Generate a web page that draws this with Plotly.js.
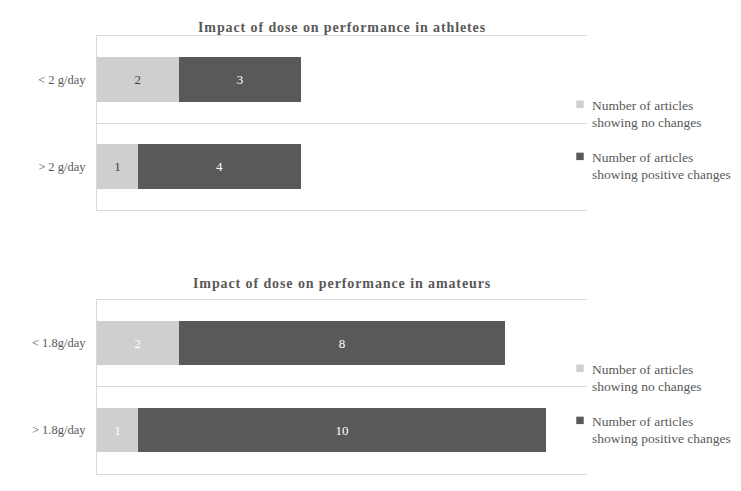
<!DOCTYPE html>
<html>
<head>
<meta charset="utf-8">
<script src="https://cdn.plot.ly/plotly-3.0.1.min.js"></script>
<style>
  html, body { margin: 0; padding: 0; background: #fff; }
  #chart { width: 741px; height: 491px; }
  .annotation-text { letter-spacing: 0.9px; }
  .legendpoints path { transform: translate(28px, 0px) scale(0.62); }
</style>
</head>
<body>
<div id="chart"></div>
<script>
// data
var athleteDoses = ['< 2 g/day', '> 2 g/day'];
var athleteNoChange = [2, 1];
var athletePositive = [3, 4];

var amateurDoses = ['< 1.8g/day', '> 1.8g/day'];
var amateurNoChange = [2, 1];
var amateurPositive = [8, 10];

var seriesNames = ['Number of articles<br>showing no changes', 'Number of articles<br>showing positive changes'];
var titles = ['Impact of dose on performance in athletes', 'Impact of dose on performance in amateurs'];

var LIGHT = '#d0cecf', DARK = '#595959', TXT = '#595959';
var FONT = 'Liberation Serif';

function bar(y, x, name, color, txtColor, xa, ya, leg, group) {
  return {
    type: 'bar', orientation: 'h',
    y: y, x: x, name: name,
    text: x.map(String), textposition: 'inside', insidetextanchor: 'middle',
    textfont: {family: FONT, size: 13, color: txtColor},
    marker: {color: color, line: {width: 0}},
    xaxis: xa, yaxis: ya, legend: leg, legendgroup: group,
    hoverinfo: 'skip'
  };
}

var data = [
  bar(athleteDoses, athleteNoChange, seriesNames[0], LIGHT, '#404040', 'x', 'y', 'legend', 'a1'),
  bar(athleteDoses, athletePositive, seriesNames[1], DARK, '#ffffff', 'x', 'y', 'legend', 'a2'),
  bar(amateurDoses, amateurNoChange, seriesNames[0], LIGHT, '#ffffff', 'x2', 'y2', 'legend2', 'b1'),
  bar(amateurDoses, amateurPositive, seriesNames[1], DARK, '#ffffff', 'x2', 'y2', 'legend2', 'b2')
];

var W = 741, H = 491;
function xd(a, b) { return [a / W, b / W]; }
function yd(top, bottom) { return [1 - bottom / H, 1 - top / H]; }

function xax(anchor) {
  return {
    domain: xd(97, 587), range: [0, 12], anchor: anchor,
    showgrid: false, zeroline: false, showticklabels: false, ticks: '',
    showline: true, mirror: true, linecolor: '#d9d9d9', linewidth: 1, fixedrange: true
  };
}
function yax(dom, anchor) {
  return {
    domain: dom, anchor: anchor, type: 'category', autorange: 'reversed',
    tickson: 'boundaries', showgrid: true, gridcolor: '#d9d9d9', gridwidth: 1,
    ticks: '', ticklabelstandoff: 8,
    showline: true, linecolor: '#d9d9d9', linewidth: 1, zeroline: false,
    tickfont: {family: FONT, size: 12.5, color: TXT}, fixedrange: true
  };
}
function leg(ytop) {
  return {
    x: 552 / W, xanchor: 'left', y: 1 - ytop / H, yanchor: 'top',
    font: {family: FONT, size: 13.5, color: TXT}, valign: 'top',
    traceorder: 'grouped', tracegroupgap: 14, bgcolor: 'rgba(0,0,0,0)'
  };
}

var layout = {
  width: W, height: H,
  margin: {l: 0, r: 0, t: 0, b: 0},
  paper_bgcolor: '#fff', plot_bgcolor: '#fff',
  barmode: 'stack', bargap: 0.49,
  font: {family: FONT, color: TXT},
  xaxis: xax('y'), yaxis: yax(yd(36, 210), 'x'),
  xaxis2: xax('y2'), yaxis2: yax(yd(299.5, 473.5), 'x2'),
  legend: leg(89), legend2: leg(353),
  annotations: [
    {text: titles[0], xref: 'paper', yref: 'paper', x: 342 / W, y: 1 - 18 / H,
     showarrow: false, font: {family: FONT, size: 14, color: TXT, weight: 'bold'}},
    {text: titles[1], xref: 'paper', yref: 'paper', x: 342 / W, y: 1 - 283 / H,
     showarrow: false, font: {family: FONT, size: 14, color: TXT, weight: 'bold'}}
  ]
};

Plotly.newPlot('chart', data, layout, {displayModeBar: false, staticPlot: true});
</script>
</body>
</html>
